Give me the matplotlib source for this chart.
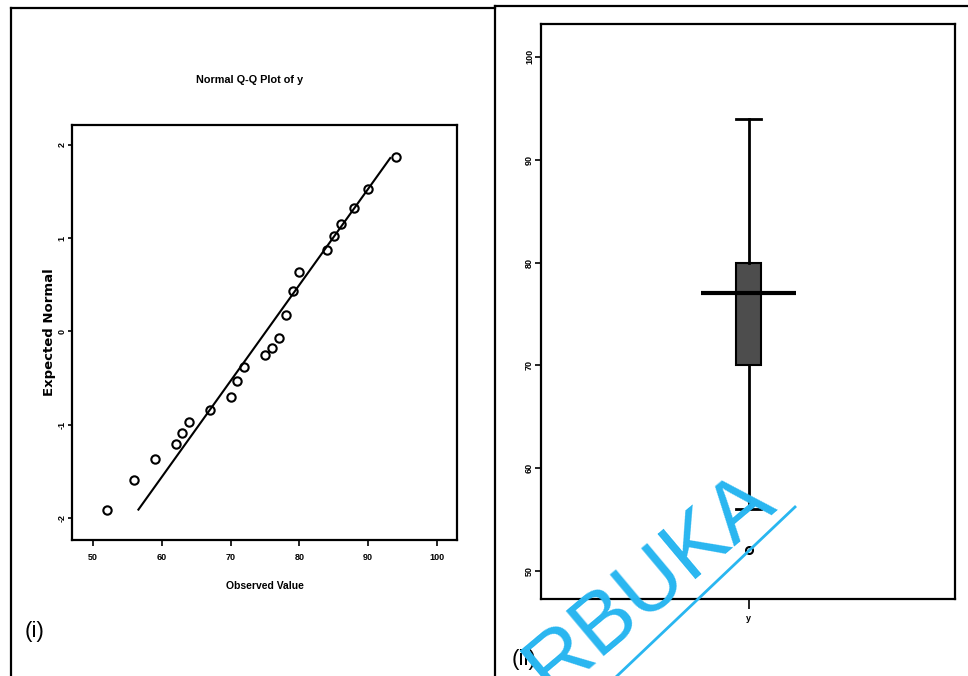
import matplotlib
matplotlib.use("Agg")
import matplotlib.pyplot as plt
from matplotlib.lines import Line2D

plt.rcParams['font.family'] = ['Liberation Sans', 'DejaVu Sans']
plt.rcParams['axes.unicode_minus'] = False

# ---- Data: Normal Q-Q plot of y ----
observed = [52, 56, 59, 62, 63, 64, 67, 70, 71, 72, 75, 76, 77, 78, 79, 80, 84, 85, 86, 88, 90, 94]
expected = [-1.91, -1.59, -1.37, -1.21, -1.09, -0.97, -0.84, -0.70, -0.53, -0.38, -0.25, -0.18,
            -0.07, 0.18, 0.43, 0.64, 0.87, 1.02, 1.15, 1.32, 1.53, 1.87]
line_x = [56.6, 93.2]
line_y = [-1.91, 1.86]
qq_xticks = [50, 60, 70, 80, 90, 100]
qq_yticks = [-2, -1, 0, 1, 2]

# ---- Data: boxplot of y ----
box_label = "y"
box_q1 = 70
box_med = 77
box_q3 = 80
box_whislo = 56
box_whishi = 94
box_fliers = [52]
box_yticks = [50, 60, 70, 80, 90, 100]

W, H = 968, 676
fig = plt.figure(figsize=(W / 100, H / 100), dpi=100)

def fx(px):
    return px / W

def fy(py):
    return 1 - py / H

# frame lines of the scanned page
for seg in [((11, 8), (11, 676)), ((11, 8), (495, 8)), ((495, 6), (495, 676)), ((495, 6), (968, 6))]:
    (x0, y0), (x1, y1) = seg
    fig.add_artist(Line2D([fx(x0), fx(x1)], [fy(y0), fy(y1)], color='black', lw=1.6))

# ---------- Left panel: Q-Q plot ----------
ax1 = fig.add_axes([fx(72), fy(540), fx(457) - fx(72), fy(125) - fy(540)])
ax1.plot(line_x, line_y, color='black', lw=1.5, zorder=2)
ax1.plot(observed, expected, linestyle='none', marker='o', markersize=6,
         markerfacecolor='none', markeredgecolor='black', markeredgewidth=1.5, zorder=3)
ax1.set_xlim(46.95, 102.9)
ax1.set_ylim(-2.236, 2.214)
ax1.set_xticks(qq_xticks)
ax1.set_yticks(qq_yticks)
ax1.set_xticklabels([str(v) for v in qq_xticks], fontsize=6.5, fontweight='bold')
ax1.set_yticklabels([str(v) for v in qq_yticks], fontsize=6.5, fontweight='bold',
                    rotation=90, va='center')
ax1.tick_params(axis='x', direction='out', length=4, width=1.2, pad=5)
ax1.tick_params(axis='y', direction='out', length=3, width=1.2, pad=1)
for s in ax1.spines.values():
    s.set_linewidth(1.6)
ax1.set_xlabel("Observed Value", fontsize=7.5, fontweight='bold', va='center')
ax1.xaxis.set_label_coords(0.5, (540 - 586) / 415)
ax1.set_ylabel("Expected Normal", fontsize=9.5, fontweight='bold', va='center',
               family=['DejaVu Sans'])
ax1.yaxis.set_label_coords((50 - 72) / 385, 0.5)
fig.text(fx(250), fy(80), "Normal Q-Q Plot of y", fontsize=7.8, fontweight='bold',
         ha='center', va='center')
fig.text(fx(25), fy(632), "(i)", fontsize=16, ha='left', va='center')

# ---------- Right panel: boxplot ----------
ax2 = fig.add_axes([fx(541), fy(599), fx(955) - fx(541), fy(24) - fy(599)])
stats = [dict(label=box_label, q1=box_q1, med=box_med, q3=box_q3,
              whislo=box_whislo, whishi=box_whishi, fliers=box_fliers)]
ax2.bxp(stats, positions=[1], widths=0.06, patch_artist=True, showfliers=True,
        boxprops=dict(facecolor='#4d4d4d', edgecolor='black', linewidth=1.5),
        whiskerprops=dict(color='black', linewidth=2),
        capprops=dict(color='black', linewidth=2),
        capwidths=0.06,
        medianprops=dict(color='none', linewidth=0),
        flierprops=dict(marker='o', markersize=5, markerfacecolor='none',
                        markeredgecolor='black', markeredgewidth=1.5))
ax2.hlines(box_med, 1 - 0.115, 1 + 0.115, color='black', lw=3, zorder=4)
ax2.set_xlim(0.498, 1.498)
ax2.set_ylim(47.28, 103.2)
ax2.set_yticks(box_yticks)
ax2.set_yticklabels([str(v) for v in box_yticks], fontsize=6.5, fontweight='bold',
                    rotation=90, va='center')
ax2.set_xticks([1])
ax2.set_xticklabels([box_label], fontsize=6.5, fontweight='bold')
ax2.tick_params(axis='y', direction='out', length=4, width=1.2, pad=1)
ax2.tick_params(axis='x', direction='out', length=7, width=1.2, pad=4)
for s in ax2.spines.values():
    s.set_linewidth(1.6)
fig.text(fx(512), fy(660), "(ii)", fontsize=16, ha='left', va='center')

# ---------- Watermark ----------
wm = '#29b6f0'
fig.text(fx(650), fy(583), "RBUKA", fontsize=62, color=wm, rotation=40,
         ha='center', va='center', rotation_mode='anchor', zorder=10)
fig.add_artist(Line2D([fx(617), fx(795)], [fy(676), fy(507)], color=wm, lw=2, zorder=10))

fig.savefig("out.png", dpi=100)
